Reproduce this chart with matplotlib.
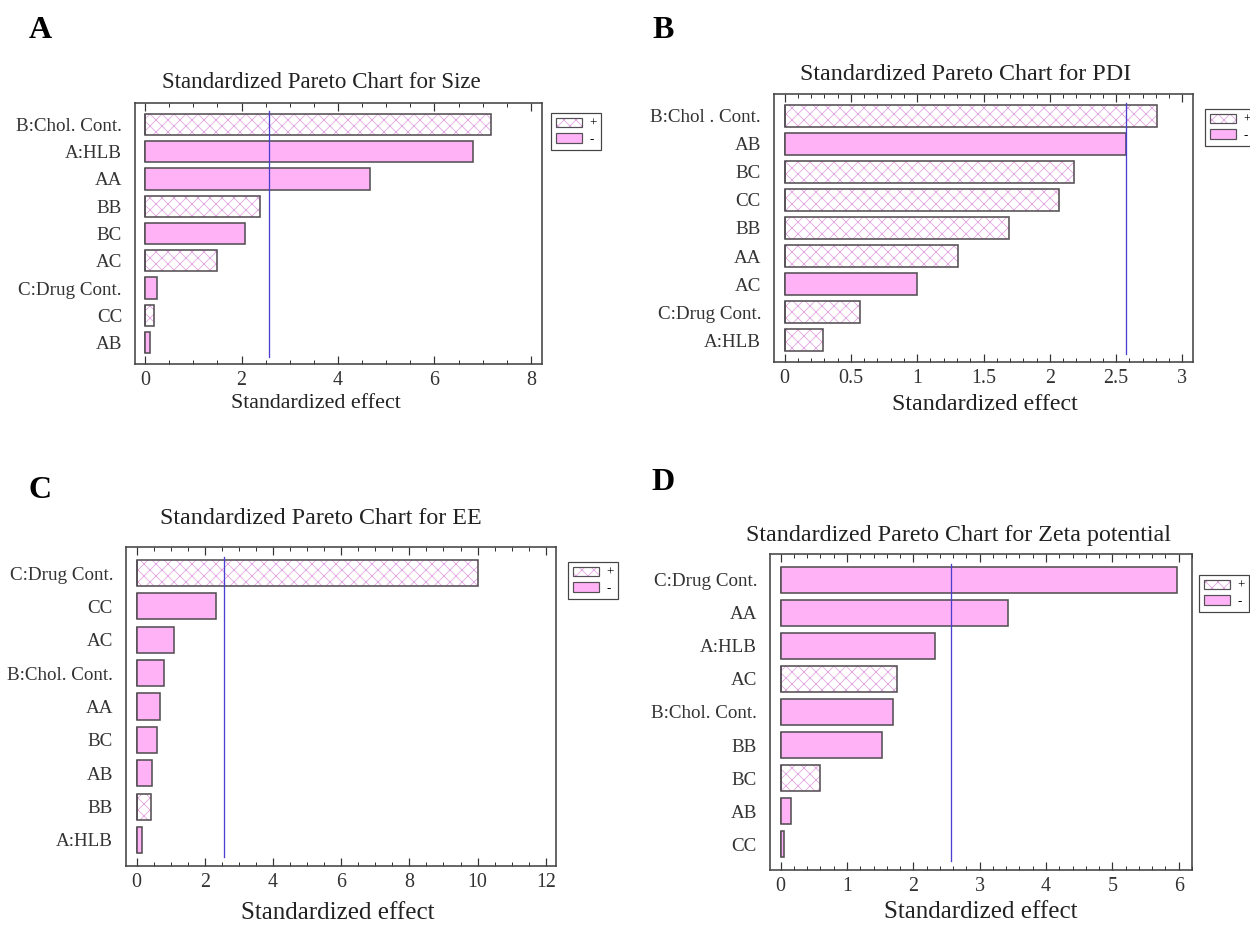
import matplotlib
matplotlib.use("Agg")
import matplotlib.pyplot as plt
from matplotlib.patches import Patch
from matplotlib.ticker import MultipleLocator

# standardized effects for each response (sign: +1 positive, -1 negative)
size_terms = ['B:Chol. Cont.', 'A:HLB', 'AA', 'BB', 'BC', 'AC', 'C:Drug Cont.', 'CC', 'AB']
size_effect = [7.18, 6.79, 4.67, 2.38, 2.08, 1.49, 0.24, 0.18, 0.10]
size_sign = [1, -1, -1, 1, -1, 1, -1, 1, -1]

pdi_terms = ['B:Chol . Cont.', 'AB', 'BC', 'CC', 'BB', 'AA', 'AC', 'C:Drug Cont.', 'A:HLB']
pdi_effect = [2.81, 2.574, 2.18, 2.07, 1.69, 1.31, 1.00, 0.57, 0.29]
pdi_sign = [1, -1, 1, 1, 1, 1, -1, 1, 1]

ee_terms = ['C:Drug Cont.', 'CC', 'AC', 'B:Chol. Cont.', 'AA', 'BC', 'AB', 'BB', 'A:HLB']
ee_effect = [10.0, 2.34, 1.11, 0.80, 0.68, 0.60, 0.44, 0.41, 0.16]
ee_sign = [1, -1, -1, -1, -1, -1, -1, 1, -1]

zeta_terms = ['C:Drug Cont.', 'AA', 'A:HLB', 'AC', 'B:Chol. Cont.', 'BB', 'BC', 'AB', 'CC']
zeta_effect = [5.98, 3.43, 2.33, 1.75, 1.70, 1.53, 0.59, 0.15, 0.05]
zeta_sign = [-1, -1, -1, 1, -1, -1, 1, -1, -1]

t_crit = 2.571

W, H = 1250, 927
DPI = 72
PINK = '#ffb3f6'
HATCH = '#e2a4e0'
EDGE = '#555055'
LINE = '#4b3fd0'

plt.rcParams['font.family'] = ['Liberation Serif', 'DejaVu Serif']
plt.rcParams['hatch.linewidth'] = 0.8

fig = plt.figure(figsize=(W / DPI, H / DPI), dpi=DPI)


def box(l, r, t, b):
    return [l / W, 1 - b / H, (r - l) / W, (b - t) / H]


def pareto(rect, terms, effect, sign, xlim, major, minor, title, tpos, xlpos,
           legpos, tsize, lsize):
    ax = fig.add_axes(box(*rect))
    y = list(range(len(terms)))
    pos = [e if s > 0 else 0 for e, s in zip(effect, sign)]
    neg = [e if s < 0 else 0 for e, s in zip(effect, sign)]
    # hatched (+) bars: light hatch first, dark outline on top
    ax.barh(y, pos, height=0.78, color='white', edgecolor=HATCH, hatch='xx', linewidth=0)
    ax.barh(y, pos, height=0.78, fill=False, edgecolor=EDGE, linewidth=1.6)
    ax.barh(y, neg, height=0.78, color=PINK, edgecolor=EDGE, linewidth=1.6)
    ax.axvline(t_crit, ymin=0.028, ymax=0.968, color=LINE, lw=1.3)

    ax.set_ylim(len(terms) - 1 + 0.78, -0.78)
    ax.set_xlim(*xlim)
    ax.set_yticks(y)
    ax.set_yticklabels(terms, fontsize=19)
    ax.xaxis.set_major_locator(MultipleLocator(major))
    ax.xaxis.set_minor_locator(MultipleLocator(minor))
    ax.xaxis.set_major_formatter(lambda v, p: f'{v:g}')
    ax.tick_params(axis='y', length=0, pad=13, colors='#333333')
    ax.tick_params(axis='x', which='major', direction='in', top=True, length=8,
                   width=1.2, labelsize=20, pad=7, colors='#333333')
    ax.tick_params(axis='x', which='minor', direction='in', top=True, length=4,
                   width=1.0, colors='#333333')
    for sp in ax.spines.values():
        sp.set_color('#444444')
        sp.set_linewidth(1.6)

    fig.text(tpos[0] / W, 1 - tpos[1] / H, title, fontsize=tsize,
             ha='center', va='center', color='#222222')
    fig.text(xlpos[0] / W, 1 - xlpos[1] / H, 'Standardized effect', fontsize=lsize,
             ha='center', va='center', color='#222222')

    plus = (Patch(facecolor='white', edgecolor=HATCH, hatch='xx', linewidth=0),
            Patch(fill=False, edgecolor=EDGE, linewidth=1.2))
    minus = Patch(facecolor=PINK, edgecolor=EDGE, linewidth=1.2)
    leg = ax.legend([plus, minus], ['+', '-'], loc='upper left',
                    bbox_to_anchor=(legpos[0] / W, 1 - legpos[1] / H),
                    bbox_transform=fig.transFigure, fontsize=13, fancybox=False,
                    framealpha=1, edgecolor='#444444', handlelength=2.0,
                    handleheight=0.8, handletextpad=0.6, borderpad=0.35,
                    labelspacing=0.25, borderaxespad=0)
    leg.get_frame().set_linewidth(1.2)
    return ax


pareto((135, 542, 103, 364), size_terms, size_effect, size_sign, (-0.21, 8.23), 2, 0.5,
       'Standardized Pareto Chart for Size', (321, 83), (316, 404), (551, 113), 23, 22)
pareto((774, 1193, 94, 362), pdi_terms, pdi_effect, pdi_sign, (-0.08, 3.08), 0.5, 0.1,
       'Standardized Pareto Chart for PDI', (966, 75), (985, 405), (1205, 109), 24, 24)
pareto((126, 556, 547, 866), ee_terms, ee_effect, ee_sign, (-0.31, 12.3), 2, 0.5,
       'Standardized Pareto Chart for EE', (321, 519), (338, 913), (568, 562), 24, 25)
pareto((770, 1192, 554, 870), zeta_terms, zeta_effect, zeta_sign, (-0.16, 6.2), 1, 0.2,
       'Standardized Pareto Chart for Zeta potential', (959, 535), (981, 912), (1199, 575), 24, 25)

for letter, x, yy in [('A', 40, 30), ('B', 663, 30), ('C', 40, 490), ('D', 663, 482)]:
    fig.text(x / W, 1 - yy / H, letter, fontsize=32, fontweight='bold',
             ha='center', va='center', color='black')

fig.savefig('out.png', dpi=DPI)
